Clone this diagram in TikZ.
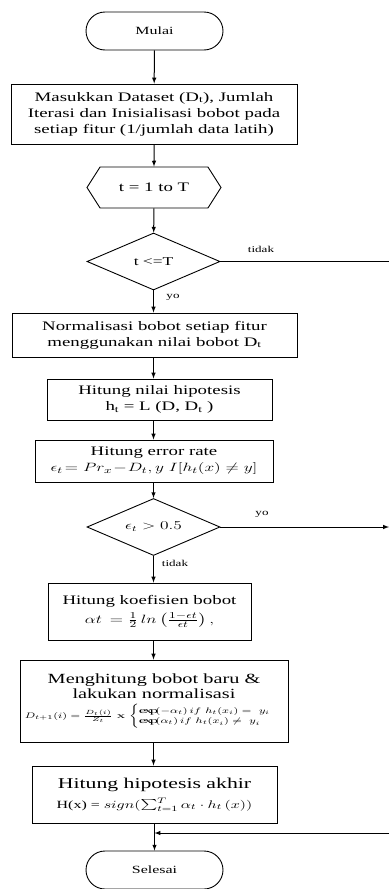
\documentclass[tikz,border=0pt]{standalone}
\usepackage{amsmath}
\usepackage{graphicx}
\usepackage{fontspec}
\setmainfont{Liberation Serif}[FakeStretch=1.45]
\usetikzlibrary{shapes,arrows,positioning,calc}

\newcommand{\widemath}[1]{\scalebox{1.45}[1]{$#1$}}

\tikzset{
    proc/.style={draw, line width=1pt, align=center, inner sep=2pt},
    term/.style={draw, line width=0.9pt, rounded corners=19pt, minimum width=137pt, minimum height=38pt, font=\fontsize{11}{12}\selectfont},
    cond/.style={draw, line width=0.9pt, diamond, aspect=2.33, inner sep=0pt, minimum width=133pt, minimum height=57pt, font=\fontsize{12}{13}\selectfont},
    loopbox/.style={draw, line width=0.9pt, signal, signal to=west and east, signal pointer angle=115, inner sep=0pt, minimum width=134pt, minimum height=41pt},
    lbl/.style={font=\fontsize{9}{10}\selectfont, inner sep=1pt},
    flow/.style={->, line width=1pt}
}

\begin{document}
\begin{tikzpicture}[x=1pt, y=-1pt, >=latex, every node/.style={font=\fontsize{13}{16}\selectfont}]
        \useasboundingbox (0,0) rectangle (389,889);

        % Start
        \node[term] (mulai) at (154.5,31) {Mulai};

        % Input
        \node[proc, minimum width=286pt, minimum height=60pt] (input) at (154,114)
            {Masukkan Dataset (D\textsubscript{t}), Jumlah\\Iterasi dan Inisialisasi bobot pada\\setiap fitur (1/jumlah data latih)};

        % Loop
        \node[loopbox] (loop) at (154,187.5) {t = 1 to T};

        % Check iteration
        \node[cond] (cek) at (153.5,261.5) {t <=T};
        \node[lbl] (tidak1) at (261,249) {tidak};
        \node[lbl] (yo1) at (173,297) {yo};
        \coordinate (rtop) at (389,261.5);

        % Normalisation
        \node[proc, minimum width=285pt, minimum height=44pt] (norm) at (154.5,335)
            {Normalisasi bobot setiap fitur\\menggunakan nilai bobot D\textsubscript{t}};

        % Hypothesis
        \node[proc, minimum width=225pt, minimum height=41pt] (hipo) at (159.5,399.5)
            {Hitung nilai hipotesis\\h\textsubscript{t} = L (D, D\textsubscript{t} )};

        % Error rate
        \node[proc, minimum width=238pt, minimum height=42pt] (error) at (154,461)
            {Hitung error rate\\\widemath{\epsilon_t\!= Pr_x\!-\!D_t,y\; I[h_t(x)\neq y]}};

        % Check error
        \node[cond] (cekerr) at (153.5,527) {\widemath{\epsilon_t > 0.5}};
        \node[lbl] (yo2) at (262,514) {yo};
        \node[lbl] (tidak2) at (175,563) {tidak};
        \coordinate (rmid) at (389,527);

        % Coefficient
        \node[proc, minimum width=203pt, minimum height=57pt] (koef) at (149.5,611.5)
            {Hitung koefisien bobot\\[3pt]\widemath{\alpha t\, = \frac{1}{2}\, ln\left(\frac{1-\epsilon t}{\epsilon t}\right),}};

        % New weights
        \node[proc, minimum width=268pt, minimum height=82pt, font=\fontsize{14}{15}\selectfont] (bobot) at (154,701)
            {Menghitung bobot baru \&\\lakukan normalisasi\\[5pt]\fontsize{8}{9}\selectfont
             \widemath{D_{t+1}(i) = \frac{D_t(i)}{Z_t}\ \mathrm{x}\ \begin{cases}\exp(-\alpha_t)\, if\ h_t(x_i) =\ y_i\\ \exp(\alpha_t)\, if\ h_t(x_i) \neq\ y_i\end{cases}}};

        % Final hypothesis
        \node[proc, minimum width=245pt, minimum height=57pt, font=\fontsize{15}{20}\selectfont] (akhir) at (154.5,794.5)
            {Hitung hipotesis akhir\\\fontsize{11}{12}\selectfont H(x) = \widemath{sign(\sum\nolimits_{t=1}^{T} \alpha_t \cdot h_t\,(x))}};

        % End
        \node[term] (selesai) at (154.5,870) {Selesai};
        \coordinate (rbot) at (389,833);

        \draw[flow] (mulai) -- (input);
        \draw[flow] (input) -- (loop);
        \draw[flow] (loop) -- (cek);
        \draw[flow] (cek) -- (norm.north -| cek.south);
        \draw[line width=1pt] (cek) -- (rtop);
        \draw[flow] (norm.south -| cek.south) -- (hipo.north -| cek.south);
        \draw[flow] (hipo.south -| cek.south) -- (error.north -| cek.south);
        \draw[flow] (error.south -| cek.south) -- (cekerr);
        \draw[flow] (cekerr) -- (rmid);
        \draw[flow] (cekerr) -- (koef.north -| cekerr.south);
        \draw[flow] (koef.south -| cekerr.south) -- (bobot.north -| cekerr.south);
        \draw[flow] (bobot.south -| cekerr.south) -- (akhir.north -| cekerr.south);
        \draw[flow] (akhir) -- (selesai);
        \draw[flow] (rbot) -- (akhir.south |- rbot);
    \end{tikzpicture}
\end{document}
